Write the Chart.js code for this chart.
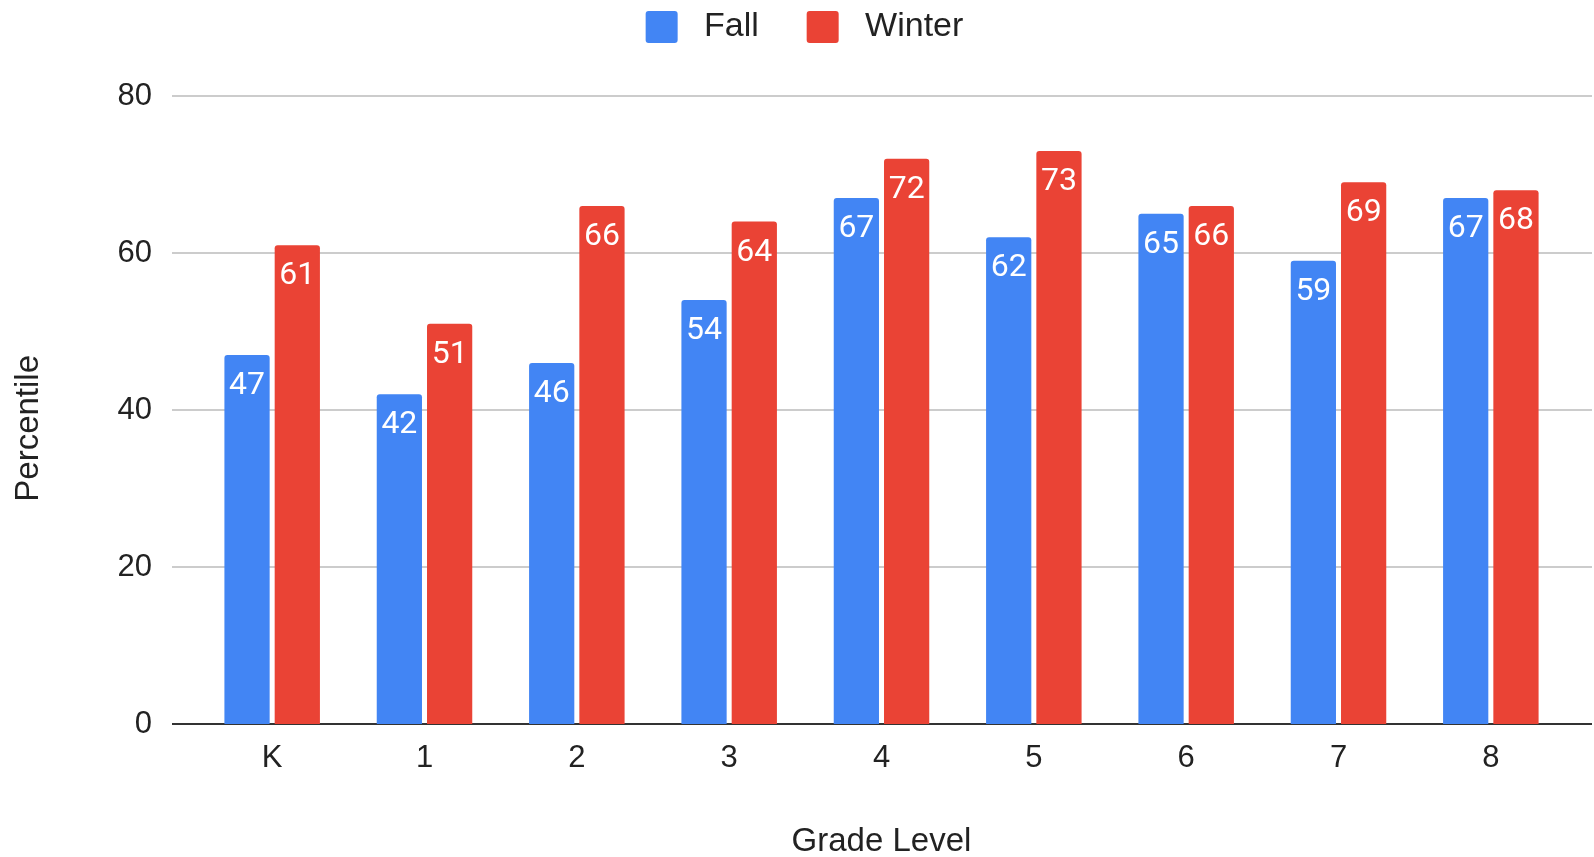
<!DOCTYPE html>
<html>
<head>
<meta charset="utf-8">
<script src="https://cdn.jsdelivr.net/npm/chart.js@4/dist/chart.umd.min.js"></script>
<style>
  html, body { margin: 0; padding: 0; background: #fff; }
  #wrap { width: 1594px; height: 857px; }
</style>
</head>
<body>
<div id="wrap"><canvas id="gradeChart" width="1594" height="857"></canvas></div>
<script>
// Percentile by grade level, fall vs winter
const grades = ['K', '1', '2', '3', '4', '5', '6', '7', '8'];
const fallScores = [47, 42, 46, 54, 67, 62, 65, 59, 67];
const winterScores = [61, 51, 66, 64, 72, 73, 66, 69, 68];
const yTicks = [0, 20, 40, 60, 80];

const FONT = "'Liberation Sans', Arial, Helvetica, sans-serif";

// white value labels inside the top of each bar
const barLabels = {
    id: 'barLabels',
    afterDatasetsDraw(chart) {
        const ctx = chart.ctx;
        ctx.save();
        ctx.fillStyle = '#ffffff';
        ctx.font = "400 32px Roboto, 'Noto Sans', sans-serif";
        ctx.textAlign = 'center';
        ctx.textBaseline = 'alphabetic';
        chart.data.datasets.forEach((ds, i) => {
            chart.getDatasetMeta(i).data.forEach((bar, j) => {
                ctx.fillText(ds.data[j], bar.x, bar.y + 39);
            });
        });
        ctx.restore();
    }
};

// gridlines run a bit past the bars on both sides, like the sheet chart
const wideGrid = {
    id: 'wideGrid',
    beforeDatasetsDraw(chart) {
        const ctx = chart.ctx;
        const area = chart.chartArea;
        const y = chart.scales.y;
        const left = area.left - 24;
        const right = area.right + 25;
        ctx.save();
        yTicks.forEach(v => {
            const py = Math.round(y.getPixelForValue(v));
            ctx.beginPath();
            ctx.lineWidth = 2;
            ctx.strokeStyle = v === 0 ? '#333333' : '#cccccc';
            ctx.moveTo(left, py);
            ctx.lineTo(right, py);
            ctx.stroke();
        });
        ctx.restore();
    }
};

// extra room under the legend, and nudge it right a little
const legendGap = {
    id: 'legendGap',
    beforeInit(chart) {
        const fit = chart.legend.fit;
        chart.legend.fit = function () {
            fit.bind(chart.legend)();
            this.height += 42;
        };
    },
    afterLayout(chart) {
        chart.legend.left += 21;
        chart.legend.right += 21;
    }
};

new Chart(document.getElementById('gradeChart').getContext('2d'), {
    type: 'bar',
    data: {
        labels: grades,
        datasets: [
            {
                label: 'Fall',
                data: fallScores,
                backgroundColor: '#4285F4',
                borderRadius: { topLeft: 3, topRight: 3 },
                borderSkipped: 'bottom',
                categoryPercentage: 0.66,
                barPercentage: 0.9
            },
            {
                label: 'Winter',
                data: winterScores,
                backgroundColor: '#EA4335',
                borderRadius: { topLeft: 3, topRight: 3 },
                borderSkipped: 'bottom',
                categoryPercentage: 0.66,
                barPercentage: 0.9
            }
        ]
    },
    options: {
        responsive: false,
        devicePixelRatio: 1,
        animation: false,
        layout: { padding: { top: 0, right: 27, bottom: 0, left: 0 } },
        plugins: {
            legend: {
                position: 'top',
                labels: {
                    color: '#222222',
                    boxWidth: 32,
                    boxHeight: 32,
                    padding: 10,
                    font: { family: FONT, size: 34 },
                    generateLabels(chart) {
                        return chart.data.datasets.map((ds, i) => ({
                            text: ' ' + ds.label + (i === 0 ? '    ' : ''),
                            fillStyle: ds.backgroundColor,
                            strokeStyle: ds.backgroundColor,
                            lineWidth: 0,
                            borderRadius: 3,
                            fontColor: '#222222',
                            datasetIndex: i
                        }));
                    }
                }
            },
            tooltip: { enabled: false }
        },
        scales: {
            x: {
                grid: { display: false, drawTicks: false },
                border: { display: false },
                ticks: { color: '#222222', padding: 16, font: { family: FONT, size: 31 } },
                title: {
                    display: true,
                    text: 'Grade Level',
                    color: '#222222',
                    padding: { top: 0, bottom: -5 },
                    font: { family: FONT, size: 33 }
                },
                afterFit(scale) { scale.height = 133; }
            },
            y: {
                min: 0,
                max: 80,
                grid: { display: false, drawTicks: false },
                border: { display: false },
                afterBuildTicks(scale) { scale.ticks = yTicks.map(v => ({ value: v })); },
                ticks: { color: '#222222', padding: 44, font: { family: FONT, size: 31 } },
                title: {
                    display: true,
                    text: 'Percentile    ',
                    color: '#222222',
                    padding: { top: 9, bottom: 0 },
                    font: { family: FONT, size: 33 }
                },
                afterFit(scale) { scale.width = 196; }
            }
        }
    },
    plugins: [legendGap, wideGrid, barLabels]
});
</script>
</body>
</html>
